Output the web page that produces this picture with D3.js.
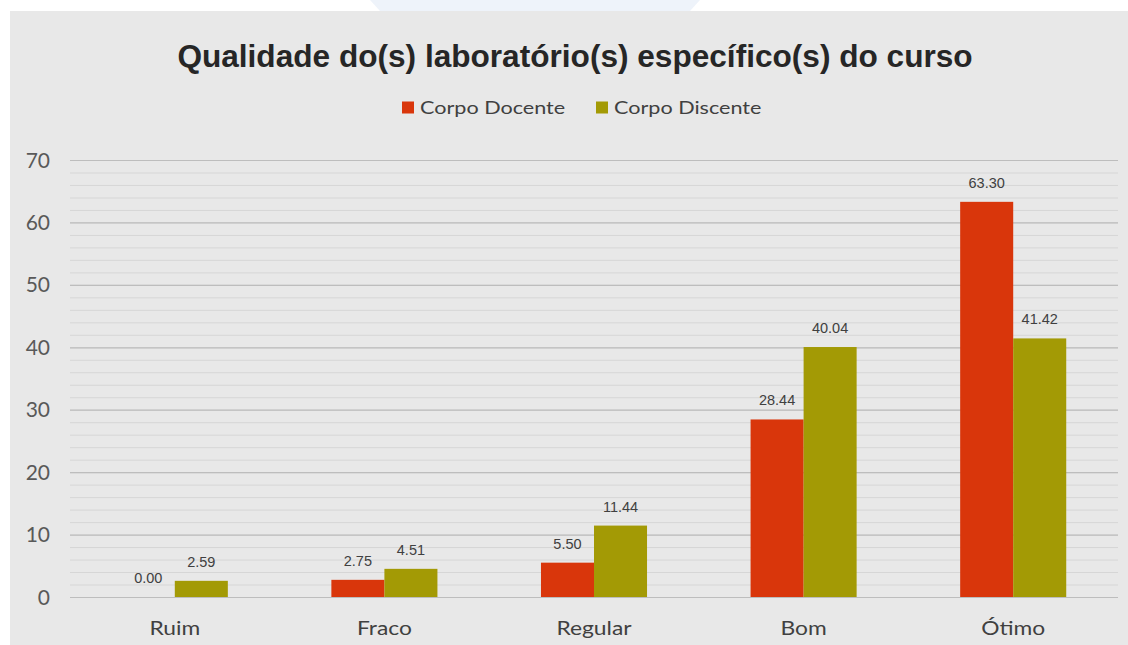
<!DOCTYPE html>
<html lang="pt">
<head>
  <meta charset="UTF-8">
  <title>Qualidade do(s) laboratório(s) específico(s) do curso</title>
  <script src="https://d3js.org/d3.v7.min.js"></script>
  <style>
    body { margin: 0; background: #ffffff; }
    .title { font-family: "Liberation Sans", Arial, sans-serif; font-weight: bold; font-size: 31.6px; fill: #262626; }
    .legend text { font-family: Lato, Carlito, sans-serif; font-size: 18px; fill: #404040; }
    .ytick { font-family: Lato, Carlito, sans-serif; font-size: 21px; fill: #595959; }
    .xtick { font-family: Lato, Carlito, sans-serif; font-size: 19px; fill: #404040; }
    .value { font-family: "Liberation Sans", Arial, sans-serif; font-size: 14.5px; fill: #404040; }
  </style>
</head>
<body>
  <svg width="1128" height="645"></svg>
  <script>
    // data
    const categories = ["Ruim", "Fraco", "Regular", "Bom", "Ótimo"];
    const seriesNames = ["Corpo Docente", "Corpo Discente"];
    const docente = [0.00, 2.75, 5.50, 28.44, 63.30];
    const discente = [2.59, 4.51, 11.44, 40.04, 41.42];
    const yTicks = [0, 10, 20, 30, 40, 50, 60, 70];
    const colors = ["#d9360b", "#a39a05"];

    const W = 1128, H = 645;
    const margin = { top: 160, right: 10, bottom: 48, left: 70 };
    const width = W - margin.left - margin.right;
    const height = H - margin.top - margin.bottom;
    const stretch = 1.2; // the source text is drawn wide

    const svg = d3.select("svg");

    // page background + chart panel
    svg.append("rect").attr("width", W).attr("height", H).attr("fill", "#ffffff");
    svg.append("path")
      .attr("d", "M370,0 L700,0 L690,11 L380,11 Z")
      .attr("fill", "#eef3fa");
    svg.append("rect")
      .attr("x", 10).attr("y", 11)
      .attr("width", W - 10).attr("height", H - 11)
      .attr("fill", "#e8e8e8");

    // title
    svg.append("text")
      .attr("class", "title")
      .attr("x", 575).attr("y", 67)
      .attr("text-anchor", "middle")
      .text("Qualidade do(s) laboratório(s) específico(s) do curso");

    // legend
    const legend = svg.append("g").attr("class", "legend");
    const legX = [402, 596];
    seriesNames.forEach((name, i) => {
      legend.append("rect")
        .attr("x", legX[i]).attr("y", 101.5)
        .attr("width", 12).attr("height", 12)
        .attr("fill", colors[i]);
      legend.append("text")
        .attr("transform", `translate(${legX[i] + 18},114) scale(${stretch},1)`)
        .text(name);
    });

    const chart = svg.append("g")
      .attr("transform", `translate(${margin.left},${margin.top})`);

    const y = d3.scaleLinear().domain([0, 70]).range([height, 0]);

    const x0 = d3.scaleBand()
      .domain(categories)
      .range([0, width])
      .paddingInner(0.494)
      .paddingOuter(0.247);

    const x1 = d3.scaleBand()
      .domain(seriesNames)
      .range([0, x0.bandwidth()]);

    // minor gridlines
    chart.append("g")
      .call(d3.axisLeft(y).ticks(35).tickSize(-width).tickFormat(""))
      .call(g => g.select(".domain").remove())
      .selectAll("line")
      .attr("stroke", "#d6d6d6")
      .attr("stroke-width", 1);

    // major gridlines
    chart.append("g")
      .call(d3.axisLeft(y).tickValues(yTicks).tickSize(-width).tickFormat(""))
      .call(g => g.select(".domain").remove())
      .selectAll("line")
      .attr("stroke", "#bdbdbd")
      .attr("stroke-width", 1.2);

    // y labels
    chart.append("g")
      .selectAll("text")
      .data(yTicks)
      .join("text")
      .attr("class", "ytick")
      .attr("x", -20)
      .attr("y", d => y(d) + 7.5)
      .attr("text-anchor", "end")
      .text(d => d);

    // bars
    const rows = categories.map((c, i) => ({ cat: c, vals: [docente[i], discente[i]] }));

    const groups = chart.selectAll(".grp")
      .data(rows)
      .join("g")
      .attr("class", "grp")
      .attr("transform", d => `translate(${x0(d.cat)},0)`);

    groups.selectAll("rect")
      .data(d => d.vals.map((v, i) => ({ v, s: seriesNames[i], i })))
      .join("rect")
      .attr("x", d => x1(d.s))
      .attr("y", d => y(d.v))
      .attr("width", x1.bandwidth())
      .attr("height", d => height - y(d.v))
      .attr("fill", d => colors[d.i]);

    groups.selectAll("text")
      .data(d => d.vals.map((v, i) => ({ v, s: seriesNames[i], i })))
      .join("text")
      .attr("class", "value")
      .attr("x", d => x1(d.s) + x1.bandwidth() / 2)
      .attr("y", d => y(d.v) - 14)
      .attr("text-anchor", "middle")
      .text(d => d.v.toFixed(2));

    // x labels
    chart.append("g")
      .selectAll("text")
      .data(categories)
      .join("text")
      .attr("class", "xtick")
      .attr("text-anchor", "middle")
      .attr("transform", d => `translate(${x0(d) + x0.bandwidth() / 2},${height + 38}) scale(${stretch},1)`)
      .text(d => d);
  </script>
</body>
</html>
